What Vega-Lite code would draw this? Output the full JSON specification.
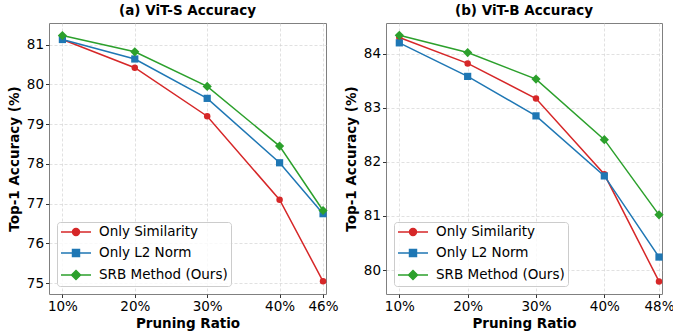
{
  "$schema": "https://vega.github.io/schema/vega-lite/v6.json",
  "padding": {"left": 6, "top": 3, "right": 4, "bottom": 2},
  "bounds": "flush",
  "spacing": 60,
  "datasets": {
    "vits": [
      {"ratio": 10, "method": "Only Similarity", "acc": 81.13},
      {"ratio": 20, "method": "Only Similarity", "acc": 80.42},
      {"ratio": 30, "method": "Only Similarity", "acc": 79.2},
      {"ratio": 40, "method": "Only Similarity", "acc": 77.1},
      {"ratio": 46, "method": "Only Similarity", "acc": 75.05},
      {"ratio": 10, "method": "Only L2 Norm", "acc": 81.13},
      {"ratio": 20, "method": "Only L2 Norm", "acc": 80.64},
      {"ratio": 30, "method": "Only L2 Norm", "acc": 79.65},
      {"ratio": 40, "method": "Only L2 Norm", "acc": 78.03},
      {"ratio": 46, "method": "Only L2 Norm", "acc": 76.75},
      {"ratio": 10, "method": "SRB Method (Ours)", "acc": 81.23},
      {"ratio": 20, "method": "SRB Method (Ours)", "acc": 80.82},
      {"ratio": 30, "method": "SRB Method (Ours)", "acc": 79.95},
      {"ratio": 40, "method": "SRB Method (Ours)", "acc": 78.45},
      {"ratio": 46, "method": "SRB Method (Ours)", "acc": 76.83}
    ],
    "vitb": [
      {"ratio": 10, "method": "Only Similarity", "acc": 84.3},
      {"ratio": 20, "method": "Only Similarity", "acc": 83.82},
      {"ratio": 30, "method": "Only Similarity", "acc": 83.17},
      {"ratio": 40, "method": "Only Similarity", "acc": 81.77},
      {"ratio": 48, "method": "Only Similarity", "acc": 79.79},
      {"ratio": 10, "method": "Only L2 Norm", "acc": 84.2},
      {"ratio": 20, "method": "Only L2 Norm", "acc": 83.58},
      {"ratio": 30, "method": "Only L2 Norm", "acc": 82.85},
      {"ratio": 40, "method": "Only L2 Norm", "acc": 81.74},
      {"ratio": 48, "method": "Only L2 Norm", "acc": 80.24},
      {"ratio": 10, "method": "SRB Method (Ours)", "acc": 84.34},
      {"ratio": 20, "method": "SRB Method (Ours)", "acc": 84.02},
      {"ratio": 30, "method": "SRB Method (Ours)", "acc": 83.53},
      {"ratio": 40, "method": "SRB Method (Ours)", "acc": 82.41},
      {"ratio": 48, "method": "SRB Method (Ours)", "acc": 81.02}
    ]
  },
  "hconcat": [
    {
      "title": {"text": "(a) ViT-S Accuracy"},
      "width": 277,
      "height": 271,
      "data": {"name": "vits"},
      "encoding": {
        "x": {"field": "ratio", "type": "quantitative", "title": "Pruning Ratio",
              "scale": {"domain": [8.15, 46.41], "nice": false, "zero": false},
              "axis": {"values": [10, 20, 30, 40, 46], "labelExpr": "datum.value + '%'"}},
        "y": {"field": "acc", "type": "quantitative", "title": "Top-1 Accuracy (%)",
              "scale": {"domain": [74.73, 81.545], "nice": false, "zero": false},
              "axis": {"values": [75, 76, 77, 78, 79, 80, 81]}}
      },
      "layer": [
        {"mark": {"type": "line"},
         "encoding": {
           "color": {"field": "method", "type": "nominal", "legend": null,
                  "scale": {"domain": ["SRB Method (Ours)", "Only L2 Norm", "Only Similarity"], "range": ["#2ca02c", "#1f77b4", "#d62728"]}},
           "strokeWidth": {"field": "method", "type": "nominal", "legend": null,
                      "scale": {"domain": ["Only L2 Norm", "Only Similarity", "SRB Method (Ours)"], "range": [1.5, 1.5, 2]}}}},
        {"transform": [{"filter": "datum.method === 'Only Similarity'"}],
         "mark": {"type": "point", "filled": true, "opacity": 1, "shape": "circle", "size": 42, "color": "#d62728"}},
        {"transform": [{"filter": "datum.method === 'Only L2 Norm'"}],
         "mark": {"type": "point", "filled": true, "opacity": 1, "shape": "square", "size": 52, "color": "#1f77b4"}},
        {"transform": [{"filter": "datum.method === 'SRB Method (Ours)'"}],
         "mark": {"type": "point", "filled": true, "opacity": 1, "shape": "diamond", "size": 85, "color": "#2ca02c"}},
        {"mark": {"type": "point", "filled": true, "opacity": 0},
         "encoding": {
           "fill": {"field": "method", "type": "nominal", "legend": {"title": null},
                    "scale": {"domain": ["Only Similarity", "Only L2 Norm", "SRB Method (Ours)"], "range": ["#d62728", "#1f77b4", "#2ca02c"]}},
           "stroke": {"field": "method", "type": "nominal", "legend": {"title": null},
                    "scale": {"domain": ["Only Similarity", "Only L2 Norm", "SRB Method (Ours)"], "range": ["#d62728", "#1f77b4", "#2ca02c"]}},
           "shape": {"field": "method", "type": "nominal", "legend": {"title": null},
                    "scale": {"domain": ["Only Similarity", "Only L2 Norm", "SRB Method (Ours)"],
                              "range": ["M-1,0H4M0.92,0A0.58,0.58 0 1,1 2.08,0A0.58,0.58 0 1,1 0.92,0Z", "M-1,0H4M0.92,-0.58H2.08V0.58H0.92Z", "M-1,0H4M1.5,-0.75L2.25,0L1.5,0.75L0.75,0Z"]}}
         }}
      ]
    },
    {
      "title": {"text": "(b) ViT-B Accuracy"},
      "width": 276,
      "height": 271,
      "data": {"name": "vitb"},
      "encoding": {
        "x": {"field": "ratio", "type": "quantitative", "title": "Pruning Ratio",
              "scale": {"domain": [8.05, 48.44], "nice": false, "zero": false},
              "axis": {"values": [10, 20, 30, 40, 48], "labelExpr": "datum.value + '%'"}},
        "y": {"field": "acc", "type": "quantitative", "title": "Top-1 Accuracy (%)",
              "scale": {"domain": [79.557, 84.567], "nice": false, "zero": false},
              "axis": {"values": [80, 81, 82, 83, 84]}}
      },
      "layer": [
        {"mark": {"type": "line"},
         "encoding": {
           "color": {"field": "method", "type": "nominal", "legend": null,
                  "scale": {"domain": ["SRB Method (Ours)", "Only L2 Norm", "Only Similarity"], "range": ["#2ca02c", "#1f77b4", "#d62728"]}},
           "strokeWidth": {"field": "method", "type": "nominal", "legend": null,
                      "scale": {"domain": ["Only L2 Norm", "Only Similarity", "SRB Method (Ours)"], "range": [1.5, 1.5, 2]}}}},
        {"transform": [{"filter": "datum.method === 'Only Similarity'"}],
         "mark": {"type": "point", "filled": true, "opacity": 1, "shape": "circle", "size": 42, "color": "#d62728"}},
        {"transform": [{"filter": "datum.method === 'Only L2 Norm'"}],
         "mark": {"type": "point", "filled": true, "opacity": 1, "shape": "square", "size": 52, "color": "#1f77b4"}},
        {"transform": [{"filter": "datum.method === 'SRB Method (Ours)'"}],
         "mark": {"type": "point", "filled": true, "opacity": 1, "shape": "diamond", "size": 85, "color": "#2ca02c"}},
        {"mark": {"type": "point", "filled": true, "opacity": 0},
         "encoding": {
           "fill": {"field": "method", "type": "nominal", "legend": {"title": null},
                    "scale": {"domain": ["Only Similarity", "Only L2 Norm", "SRB Method (Ours)"], "range": ["#d62728", "#1f77b4", "#2ca02c"]}},
           "stroke": {"field": "method", "type": "nominal", "legend": {"title": null},
                    "scale": {"domain": ["Only Similarity", "Only L2 Norm", "SRB Method (Ours)"], "range": ["#d62728", "#1f77b4", "#2ca02c"]}},
           "shape": {"field": "method", "type": "nominal", "legend": {"title": null},
                    "scale": {"domain": ["Only Similarity", "Only L2 Norm", "SRB Method (Ours)"],
                              "range": ["M-1,0H4M0.92,0A0.58,0.58 0 1,1 2.08,0A0.58,0.58 0 1,1 0.92,0Z", "M-1,0H4M0.92,-0.58H2.08V0.58H0.92Z", "M-1,0H4M1.5,-0.75L2.25,0L1.5,0.75L0.75,0Z"]}}
         }}
      ]
    }
  ],
  "resolve": {"scale": {"x": "independent", "y": "independent", "color": "independent", "fill": "independent", "stroke": "independent", "shape": "independent", "strokeWidth": "independent"}, "legend": {"fill": "independent", "stroke": "independent", "shape": "independent"}},
  "config": {
    "font": "DejaVu Sans",
    "view": {"stroke": "#808080", "strokeWidth": 1},
    "title": {"font": "DejaVu Sans", "fontSize": 13.5, "fontWeight": "bold", "color": "#000000", "offset": 6, "anchor": "middle"},
    "legend": {
      "orient": "bottom-left", "offset": 8, "padding": 3,
      "rowPadding": 7, "labelOffset": 25, "symbolSize": 144, "symbolStrokeWidth": 1.5, "symbolOpacity": 1,
      "labelFontSize": 13.5, "labelFont": "DejaVu Sans", "labelColor": "#000000",
      "strokeColor": "#cccccc", "fillColor": "rgba(255,255,255,0.8)", "cornerRadius": 3
    },
    "axis": {
      "domain": false,
      "grid": true, "gridColor": "#d0d0d0", "gridDash": [3, 2], "gridOpacity": 0.8, "gridWidth": 0.8,
      "ticks": true, "tickColor": "#333333", "tickSize": 3.5, "tickWidth": 1,
      "labelFont": "DejaVu Sans", "labelFontSize": 13.5, "labelColor": "#000000", "labelPadding": 2,
      "titleFont": "DejaVu Sans", "titleFontSize": 13.5, "titleFontWeight": "bold", "titleColor": "#000000",
      "labelFlush": false, "labelOverlap": false
    },
    "axisX": {"titlePadding": 3},
    "axisY": {"titlePadding": 5}
  }
}
